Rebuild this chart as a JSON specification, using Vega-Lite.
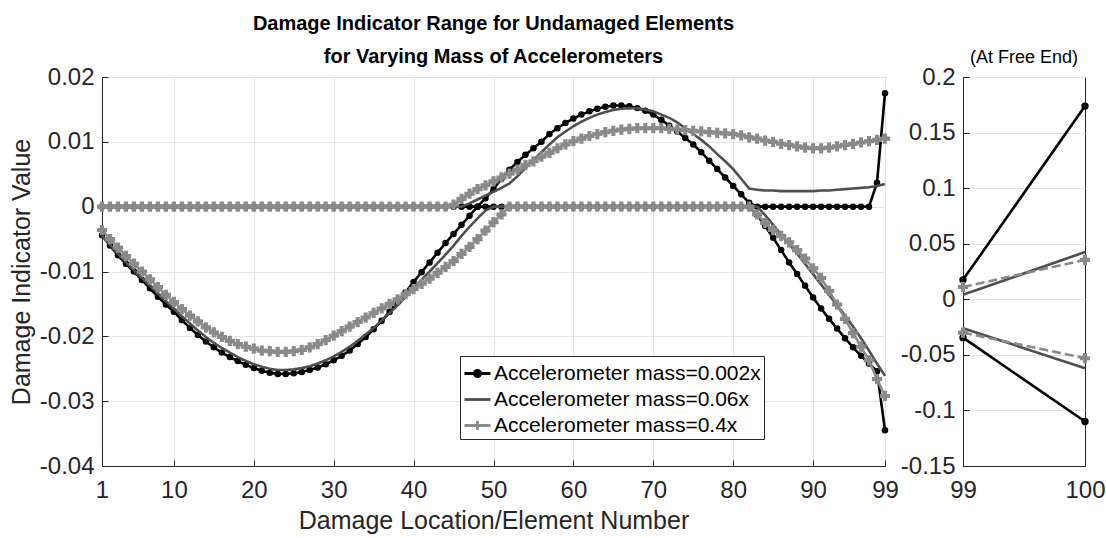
{
  "$schema": "https://vega.github.io/schema/vega-lite/v6.json",
  "background": "white",
  "padding": {"left": 8, "top": 13, "right": 2, "bottom": 2},
  "bounds": "flush",
  "spacing": 78,
  "config": {
    "font": "Liberation Sans",
    "view": {"stroke": "#262626", "strokeWidth": 1},
    "axis": {
      "domainColor": "#262626",
      "tickColor": "#262626",
      "labelColor": "#262626",
      "titleColor": "#262626",
      "gridColor": "#e3e3e3",
      "gridWidth": 1,
      "labelFontSize": 24,
      "titleFontSize": 25,
      "titleFontWeight": "normal",
      "labelFont": "Liberation Sans",
      "titleFont": "Liberation Sans",
      "tickSize": -6,
      "labelFlush": false,
      "labelOverlap": false
    }
  },
  "datasets": {
    "main": [
      {"x":1,"a_lo":-0.0044,"a_hi":0,"b_lo":-0.0045,"b_hi":0,"c_lo":-0.0036,"c_hi":0},
      {"x":2,"a_lo":-0.0060,"a_hi":0,"b_lo":-0.0059,"b_hi":0,"c_lo":-0.0050,"c_hi":0},
      {"x":3,"a_lo":-0.0075,"a_hi":0,"b_lo":-0.0073,"b_hi":0,"c_lo":-0.0063,"c_hi":0},
      {"x":4,"a_lo":-0.0088,"a_hi":0,"b_lo":-0.0086,"b_hi":0,"c_lo":-0.0076,"c_hi":0},
      {"x":5,"a_lo":-0.0100,"a_hi":0,"b_lo":-0.0098,"b_hi":0,"c_lo":-0.0088,"c_hi":0},
      {"x":6,"a_lo":-0.0113,"a_hi":0,"b_lo":-0.0110,"b_hi":0,"c_lo":-0.0100,"c_hi":0},
      {"x":7,"a_lo":-0.0126,"a_hi":0,"b_lo":-0.0122,"b_hi":0,"c_lo":-0.0112,"c_hi":0},
      {"x":8,"a_lo":-0.0139,"a_hi":0,"b_lo":-0.0134,"b_hi":0,"c_lo":-0.0124,"c_hi":0},
      {"x":9,"a_lo":-0.0151,"a_hi":0,"b_lo":-0.0146,"b_hi":0,"c_lo":-0.0136,"c_hi":0},
      {"x":10,"a_lo":-0.0162,"a_hi":0,"b_lo":-0.0157,"b_hi":0,"c_lo":-0.0147,"c_hi":0},
      {"x":11,"a_lo":-0.0175,"a_hi":0,"b_lo":-0.0169,"b_hi":0,"c_lo":-0.0158,"c_hi":0},
      {"x":12,"a_lo":-0.0187,"a_hi":0,"b_lo":-0.0180,"b_hi":0,"c_lo":-0.0168,"c_hi":0},
      {"x":13,"a_lo":-0.0198,"a_hi":0,"b_lo":-0.0191,"b_hi":0,"c_lo":-0.0177,"c_hi":0},
      {"x":14,"a_lo":-0.0208,"a_hi":0,"b_lo":-0.0201,"b_hi":0,"c_lo":-0.0186,"c_hi":0},
      {"x":15,"a_lo":-0.0217,"a_hi":0,"b_lo":-0.0210,"b_hi":0,"c_lo":-0.0194,"c_hi":0},
      {"x":16,"a_lo":-0.0225,"a_hi":0,"b_lo":-0.0218,"b_hi":0,"c_lo":-0.0201,"c_hi":0},
      {"x":17,"a_lo":-0.0232,"a_hi":0,"b_lo":-0.0225,"b_hi":0,"c_lo":-0.0207,"c_hi":0},
      {"x":18,"a_lo":-0.0238,"a_hi":0,"b_lo":-0.0232,"b_hi":0,"c_lo":-0.0212,"c_hi":0},
      {"x":19,"a_lo":-0.0244,"a_hi":0,"b_lo":-0.0238,"b_hi":0,"c_lo":-0.0216,"c_hi":0},
      {"x":20,"a_lo":-0.0249,"a_hi":0,"b_lo":-0.0243,"b_hi":0,"c_lo":-0.0219,"c_hi":0},
      {"x":21,"a_lo":-0.0253,"a_hi":0,"b_lo":-0.0247,"b_hi":0,"c_lo":-0.0222,"c_hi":0},
      {"x":22,"a_lo":-0.0256,"a_hi":0,"b_lo":-0.0250,"b_hi":0,"c_lo":-0.0223,"c_hi":0},
      {"x":23,"a_lo":-0.0258,"a_hi":0,"b_lo":-0.0252,"b_hi":0,"c_lo":-0.0224,"c_hi":0},
      {"x":24,"a_lo":-0.0258,"a_hi":0,"b_lo":-0.0252,"b_hi":0,"c_lo":-0.0224,"c_hi":0},
      {"x":25,"a_lo":-0.0257,"a_hi":0,"b_lo":-0.0251,"b_hi":0,"c_lo":-0.0223,"c_hi":0},
      {"x":26,"a_lo":-0.0255,"a_hi":0,"b_lo":-0.0249,"b_hi":0,"c_lo":-0.0221,"c_hi":0},
      {"x":27,"a_lo":-0.0252,"a_hi":0,"b_lo":-0.0246,"b_hi":0,"c_lo":-0.0217,"c_hi":0},
      {"x":28,"a_lo":-0.0248,"a_hi":0,"b_lo":-0.0242,"b_hi":0,"c_lo":-0.0212,"c_hi":0},
      {"x":29,"a_lo":-0.0243,"a_hi":0,"b_lo":-0.0237,"b_hi":0,"c_lo":-0.0206,"c_hi":0},
      {"x":30,"a_lo":-0.0237,"a_hi":0,"b_lo":-0.0231,"b_hi":0,"c_lo":-0.0199,"c_hi":0},
      {"x":31,"a_lo":-0.0230,"a_hi":0,"b_lo":-0.0224,"b_hi":0,"c_lo":-0.0192,"c_hi":0},
      {"x":32,"a_lo":-0.0222,"a_hi":0,"b_lo":-0.0216,"b_hi":0,"c_lo":-0.0185,"c_hi":0},
      {"x":33,"a_lo":-0.0212,"a_hi":0,"b_lo":-0.0207,"b_hi":0,"c_lo":-0.0178,"c_hi":0},
      {"x":34,"a_lo":-0.0201,"a_hi":0,"b_lo":-0.0197,"b_hi":0,"c_lo":-0.0171,"c_hi":0},
      {"x":35,"a_lo":-0.0189,"a_hi":0,"b_lo":-0.0187,"b_hi":0,"c_lo":-0.0164,"c_hi":0},
      {"x":36,"a_lo":-0.0176,"a_hi":0,"b_lo":-0.0176,"b_hi":0,"c_lo":-0.0157,"c_hi":0},
      {"x":37,"a_lo":-0.0162,"a_hi":0,"b_lo":-0.0164,"b_hi":0,"c_lo":-0.0150,"c_hi":0},
      {"x":38,"a_lo":-0.0147,"a_hi":0,"b_lo":-0.0152,"b_hi":0,"c_lo":-0.0143,"c_hi":0},
      {"x":39,"a_lo":-0.0132,"a_hi":0,"b_lo":-0.0139,"b_hi":0,"c_lo":-0.0135,"c_hi":0},
      {"x":40,"a_lo":-0.0116,"a_hi":0,"b_lo":-0.0126,"b_hi":0,"c_lo":-0.0127,"c_hi":0},
      {"x":41,"a_lo":-0.0101,"a_hi":0,"b_lo":-0.0113,"b_hi":0,"c_lo":-0.0119,"c_hi":0},
      {"x":42,"a_lo":-0.0086,"a_hi":0,"b_lo":-0.0100,"b_hi":0,"c_lo":-0.0111,"c_hi":0},
      {"x":43,"a_lo":-0.0071,"a_hi":0,"b_lo":-0.0087,"b_hi":0,"c_lo":-0.0102,"c_hi":0},
      {"x":44,"a_lo":-0.0056,"a_hi":0,"b_lo":-0.0074,"b_hi":0,"c_lo":-0.0093,"c_hi":0},
      {"x":45,"a_lo":-0.0042,"a_hi":0,"b_lo":-0.0060,"b_hi":0,"c_lo":-0.0084,"c_hi":0.0003},
      {"x":46,"a_lo":-0.0028,"a_hi":0,"b_lo":-0.0045,"b_hi":0,"c_lo":-0.0073,"c_hi":0.0012},
      {"x":47,"a_lo":-0.0014,"a_hi":0,"b_lo":-0.0031,"b_hi":0.0005,"c_lo":-0.0062,"c_hi":0.0020},
      {"x":48,"a_lo":0,"a_hi":0,"b_lo":-0.0018,"b_hi":0.0011,"c_lo":-0.0050,"c_hi":0.0027},
      {"x":49,"a_lo":0,"a_hi":0.0013,"b_lo":-0.0006,"b_hi":0.0017,"c_lo":-0.0037,"c_hi":0.0033},
      {"x":50,"a_lo":0,"a_hi":0.0027,"b_lo":0,"b_hi":0.0023,"c_lo":-0.0024,"c_hi":0.0039},
      {"x":51,"a_lo":0,"a_hi":0.0043,"b_lo":0,"b_hi":0.0029,"c_lo":-0.0012,"c_hi":0.0045},
      {"x":52,"a_lo":0,"a_hi":0.0057,"b_lo":0,"b_hi":0.0036,"c_lo":0,"c_hi":0.0051},
      {"x":53,"a_lo":0,"a_hi":0.0069,"b_lo":0,"b_hi":0.0047,"c_lo":0,"c_hi":0.0057},
      {"x":54,"a_lo":0,"a_hi":0.0080,"b_lo":0,"b_hi":0.0060,"c_lo":0,"c_hi":0.0064},
      {"x":55,"a_lo":0,"a_hi":0.0090,"b_lo":0,"b_hi":0.0072,"c_lo":0,"c_hi":0.0070},
      {"x":56,"a_lo":0,"a_hi":0.0100,"b_lo":0,"b_hi":0.0084,"c_lo":0,"c_hi":0.0077},
      {"x":57,"a_lo":0,"a_hi":0.0112,"b_lo":0,"b_hi":0.0096,"c_lo":0,"c_hi":0.0083},
      {"x":58,"a_lo":0,"a_hi":0.0121,"b_lo":0,"b_hi":0.0107,"c_lo":0,"c_hi":0.0090},
      {"x":59,"a_lo":0,"a_hi":0.0129,"b_lo":0,"b_hi":0.0116,"c_lo":0,"c_hi":0.0096},
      {"x":60,"a_lo":0,"a_hi":0.0136,"b_lo":0,"b_hi":0.0124,"c_lo":0,"c_hi":0.0101},
      {"x":61,"a_lo":0,"a_hi":0.0142,"b_lo":0,"b_hi":0.0131,"c_lo":0,"c_hi":0.0105},
      {"x":62,"a_lo":0,"a_hi":0.0147,"b_lo":0,"b_hi":0.0137,"c_lo":0,"c_hi":0.0109},
      {"x":63,"a_lo":0,"a_hi":0.0151,"b_lo":0,"b_hi":0.0142,"c_lo":0,"c_hi":0.0112},
      {"x":64,"a_lo":0,"a_hi":0.0154,"b_lo":0,"b_hi":0.0146,"c_lo":0,"c_hi":0.0115},
      {"x":65,"a_lo":0,"a_hi":0.0156,"b_lo":0,"b_hi":0.0149,"c_lo":0,"c_hi":0.0117},
      {"x":66,"a_lo":0,"a_hi":0.0156,"b_lo":0,"b_hi":0.0151,"c_lo":0,"c_hi":0.0119},
      {"x":67,"a_lo":0,"a_hi":0.0155,"b_lo":0,"b_hi":0.0152,"c_lo":0,"c_hi":0.0120},
      {"x":68,"a_lo":0,"a_hi":0.0152,"b_lo":0,"b_hi":0.0152,"c_lo":0,"c_hi":0.0121},
      {"x":69,"a_lo":0,"a_hi":0.0148,"b_lo":0,"b_hi":0.0150,"c_lo":0,"c_hi":0.0121},
      {"x":70,"a_lo":0,"a_hi":0.0142,"b_lo":0,"b_hi":0.0147,"c_lo":0,"c_hi":0.0121},
      {"x":71,"a_lo":0,"a_hi":0.0134,"b_lo":0,"b_hi":0.0142,"c_lo":0,"c_hi":0.0121},
      {"x":72,"a_lo":0,"a_hi":0.0125,"b_lo":0,"b_hi":0.0137,"c_lo":0,"c_hi":0.0120},
      {"x":73,"a_lo":0,"a_hi":0.0116,"b_lo":0,"b_hi":0.0130,"c_lo":0,"c_hi":0.0119},
      {"x":74,"a_lo":0,"a_hi":0.0106,"b_lo":0,"b_hi":0.0121,"c_lo":0,"c_hi":0.0118},
      {"x":75,"a_lo":0,"a_hi":0.0096,"b_lo":0,"b_hi":0.0112,"c_lo":0,"c_hi":0.0117},
      {"x":76,"a_lo":0,"a_hi":0.0084,"b_lo":0,"b_hi":0.0103,"c_lo":0,"c_hi":0.0116},
      {"x":77,"a_lo":0,"a_hi":0.0071,"b_lo":0,"b_hi":0.0093,"c_lo":0,"c_hi":0.0115},
      {"x":78,"a_lo":0,"a_hi":0.0058,"b_lo":0,"b_hi":0.0081,"c_lo":0,"c_hi":0.0114},
      {"x":79,"a_lo":0,"a_hi":0.0045,"b_lo":0,"b_hi":0.0070,"c_lo":0,"c_hi":0.0113},
      {"x":80,"a_lo":0,"a_hi":0.0032,"b_lo":0,"b_hi":0.0058,"c_lo":0,"c_hi":0.0112},
      {"x":81,"a_lo":0,"a_hi":0.0019,"b_lo":0,"b_hi":0.0043,"c_lo":0,"c_hi":0.0110},
      {"x":82,"a_lo":0,"a_hi":0.0006,"b_lo":0,"b_hi":0.0028,"c_lo":0,"c_hi":0.0107},
      {"x":83,"a_lo":-0.0013,"a_hi":0,"b_lo":0,"b_hi":0.0026,"c_lo":-0.0012,"c_hi":0.0105},
      {"x":84,"a_lo":-0.0030,"a_hi":0,"b_lo":-0.0013,"b_hi":0.0025,"c_lo":-0.0025,"c_hi":0.0102},
      {"x":85,"a_lo":-0.0048,"a_hi":0,"b_lo":-0.0028,"b_hi":0.0025,"c_lo":-0.0036,"c_hi":0.0100},
      {"x":86,"a_lo":-0.0067,"a_hi":0,"b_lo":-0.0043,"b_hi":0.0024,"c_lo":-0.0045,"c_hi":0.0097},
      {"x":87,"a_lo":-0.0086,"a_hi":0,"b_lo":-0.0058,"b_hi":0.0024,"c_lo":-0.0055,"c_hi":0.0095},
      {"x":88,"a_lo":-0.0104,"a_hi":0,"b_lo":-0.0072,"b_hi":0.0024,"c_lo":-0.0067,"c_hi":0.0093},
      {"x":89,"a_lo":-0.0122,"a_hi":0,"b_lo":-0.0088,"b_hi":0.0024,"c_lo":-0.0080,"c_hi":0.0091},
      {"x":90,"a_lo":-0.0140,"a_hi":0,"b_lo":-0.0104,"b_hi":0.0024,"c_lo":-0.0095,"c_hi":0.0090},
      {"x":91,"a_lo":-0.0157,"a_hi":0,"b_lo":-0.0120,"b_hi":0.0025,"c_lo":-0.0110,"c_hi":0.0090},
      {"x":92,"a_lo":-0.0173,"a_hi":0,"b_lo":-0.0136,"b_hi":0.0025,"c_lo":-0.0130,"c_hi":0.0091},
      {"x":93,"a_lo":-0.0188,"a_hi":0,"b_lo":-0.0152,"b_hi":0.0026,"c_lo":-0.0151,"c_hi":0.0093},
      {"x":94,"a_lo":-0.0203,"a_hi":0,"b_lo":-0.0168,"b_hi":0.0027,"c_lo":-0.0173,"c_hi":0.0095},
      {"x":95,"a_lo":-0.0217,"a_hi":0,"b_lo":-0.0185,"b_hi":0.0028,"c_lo":-0.0195,"c_hi":0.0097},
      {"x":96,"a_lo":-0.0230,"a_hi":0,"b_lo":-0.0203,"b_hi":0.0029,"c_lo":-0.0216,"c_hi":0.0099},
      {"x":97,"a_lo":-0.0242,"a_hi":0,"b_lo":-0.0222,"b_hi":0.0030,"c_lo":-0.0237,"c_hi":0.0101},
      {"x":98,"a_lo":-0.0254,"a_hi":0.0037,"b_lo":-0.0242,"b_hi":0.0032,"c_lo":-0.0266,"c_hi":0.0103},
      {"x":99,"a_lo":-0.0345,"a_hi":0.0175,"b_lo":-0.0261,"b_hi":0.0035,"c_lo":-0.0292,"c_hi":0.0105}
    ],
    "end": [
      {"x":99,"a_lo":-0.0345,"a_hi":0.0175,"b_lo":-0.026,"b_hi":0.004,"c_lo":-0.030,"c_hi":0.011},
      {"x":100,"a_lo":-0.110,"a_hi":0.1738,"b_lo":-0.062,"b_hi":0.0425,"c_lo":-0.053,"c_hi":0.0355}
    ]
  },
  "resolve": {"scale": {"color": "independent"}, "legend": {"color": "independent"}},
  "hconcat": [
    {
      "width": 783,
      "height": 389,
      "data": {"name": "main"},
      "title": {
        "text": ["Damage Indicator Range for Undamaged Elements", "for Varying Mass of Accelerometers"],
        "fontSize": 20,
        "fontWeight": "bold",
        "font": "Liberation Sans",
        "color": "#000000",
        "lineHeight": 32.7,
        "baseline": "bottom",
        "offset": -22,
        "anchor": "middle"
      },
      "encoding": {
        "x": {
          "field": "x",
          "type": "quantitative",
          "scale": {"domain": [1, 99], "nice": false, "zero": false},
          "axis": {
            "values": [1, 10, 20, 30, 40, 50, 60, 70, 80, 90, 99],
            "title": "Damage Location/Element Number",
            "labelPadding": 18,
            "titlePadding": 6,
            "grid": true
          }
        },
        "y": {
          "field": "value",
          "type": "quantitative",
          "scale": {"domain": [-0.04, 0.02], "nice": false, "zero": false},
          "axis": {
            "values": [-0.04, -0.03, -0.02, -0.01, 0, 0.01, 0.02],
            "labelExpr": "'' + datum.value",
            "title": "Damage Indicator Value",
            "labelPadding": 14,
            "titlePadding": 5,
            "grid": true
          }
        }
      },
      "layer": [
        {
          "transform": [{"fold": ["a_lo", "a_hi"]}],
          "mark": {"type": "line", "strokeWidth": 2.6, "point": {"filled": true, "size": 42}},
          "encoding": {
            "detail": {"field": "key"},
            "color": {
              "datum": "Accelerometer mass=0.002x",
              "scale": {
                "domain": ["Accelerometer mass=0.002x", "Accelerometer mass=0.06x", "Accelerometer mass=0.4x"],
                "range": ["#000000", "#4f4f4f", "#8a8a8a"]
              },
              "legend": {
                "orient": "none",
                "legendX": 358,
                "legendY": 279,
                "title": null,
                "labelFontSize": 21,
                "labelFont": "Liberation Sans",
                "labelColor": "#000000",
                "labelLimit": 400,
                "symbolSize": 676,
                "symbolStrokeWidth": 2.5,
                "labelOffset": 2,
                "padding": 3,
                "rowPadding": 1,
                "strokeColor": "#262626",
                "fillColor": "#ffffff",
                "encode": {
                  "symbols": {
                    "update": {
                      "shape": {"signal": "datum.value === 'Accelerometer mass=0.002x' ? 'M-1,0L1,0M-0.24,0A0.24,0.24 0 1,0 0.24,0A0.24,0.24 0 1,0 -0.24,0' : (datum.value === 'Accelerometer mass=0.4x' ? 'M-1,0L1,0M0,-0.34L0,0.34' : 'M-1,0L1,0')"},
                      "fill": {"signal": "datum.value === 'Accelerometer mass=0.002x' ? '#000000' : 'transparent'"},
                      "stroke": {"signal": "datum.value === 'Accelerometer mass=0.002x' ? '#000000' : (datum.value === 'Accelerometer mass=0.06x' ? '#4f4f4f' : '#8a8a8a')"},
                      "strokeWidth": {"value": 2.8},
                      "opacity": {"value": 1}
                    }
                  }
                }
              }
            }
          }
        },
        {
          "transform": [{"fold": ["b_lo", "b_hi"]}],
          "mark": {"type": "line", "strokeWidth": 2.6},
          "encoding": {
            "detail": {"field": "key"},
            "color": {"datum": "Accelerometer mass=0.06x"}
          }
        },
        {
          "transform": [{"fold": ["c_lo", "c_hi"]}],
          "mark": {"type": "line", "strokeWidth": 2.6, "point": {"filled": true, "shape": "cross", "size": 105}},
          "encoding": {
            "detail": {"field": "key"},
            "color": {"datum": "Accelerometer mass=0.4x"}
          }
        }
      ]
    },
    {
      "width": 122,
      "height": 389,
      "data": {"name": "end"},
      "title": {
        "text": "(At Free End)",
        "fontSize": 18,
        "fontWeight": "normal",
        "font": "Liberation Sans",
        "color": "#000000",
        "baseline": "bottom",
        "offset": -20,
        "anchor": "middle"
      },
      "encoding": {
        "x": {
          "field": "x",
          "type": "quantitative",
          "scale": {"domain": [99, 100], "nice": false, "zero": false},
          "axis": {"values": [99, 100], "format": "d", "title": null, "labelPadding": 18, "grid": false}
        },
        "y": {
          "field": "value",
          "type": "quantitative",
          "scale": {"domain": [-0.15, 0.2], "nice": false, "zero": false},
          "axis": {
            "values": [-0.15, -0.1, -0.05, 0, 0.05, 0.1, 0.15, 0.2],
            "labelExpr": "'' + datum.value",
            "title": null,
            "labelPadding": 14,
            "grid": true
          }
        }
      },
      "layer": [
        {
          "transform": [{"fold": ["a_lo", "a_hi"]}],
          "mark": {"type": "line", "strokeWidth": 2.6, "point": {"filled": true, "size": 55}},
          "encoding": {
            "detail": {"field": "key"},
            "color": {
              "datum": "Accelerometer mass=0.002x",
              "scale": {
                "domain": ["Accelerometer mass=0.002x", "Accelerometer mass=0.06x", "Accelerometer mass=0.4x"],
                "range": ["#000000", "#4f4f4f", "#8a8a8a"]
              },
              "legend": null
            }
          }
        },
        {
          "transform": [{"fold": ["b_lo", "b_hi"]}],
          "mark": {"type": "line", "strokeWidth": 2.6},
          "encoding": {
            "detail": {"field": "key"},
            "color": {"datum": "Accelerometer mass=0.06x"}
          }
        },
        {
          "transform": [{"fold": ["c_lo", "c_hi"]}],
          "mark": {"type": "line", "strokeWidth": 2.6, "strokeDash": [9, 4], "point": {"filled": true, "shape": "cross", "size": 105}},
          "encoding": {
            "detail": {"field": "key"},
            "color": {"datum": "Accelerometer mass=0.4x"}
          }
        }
      ]
    }
  ]
}
